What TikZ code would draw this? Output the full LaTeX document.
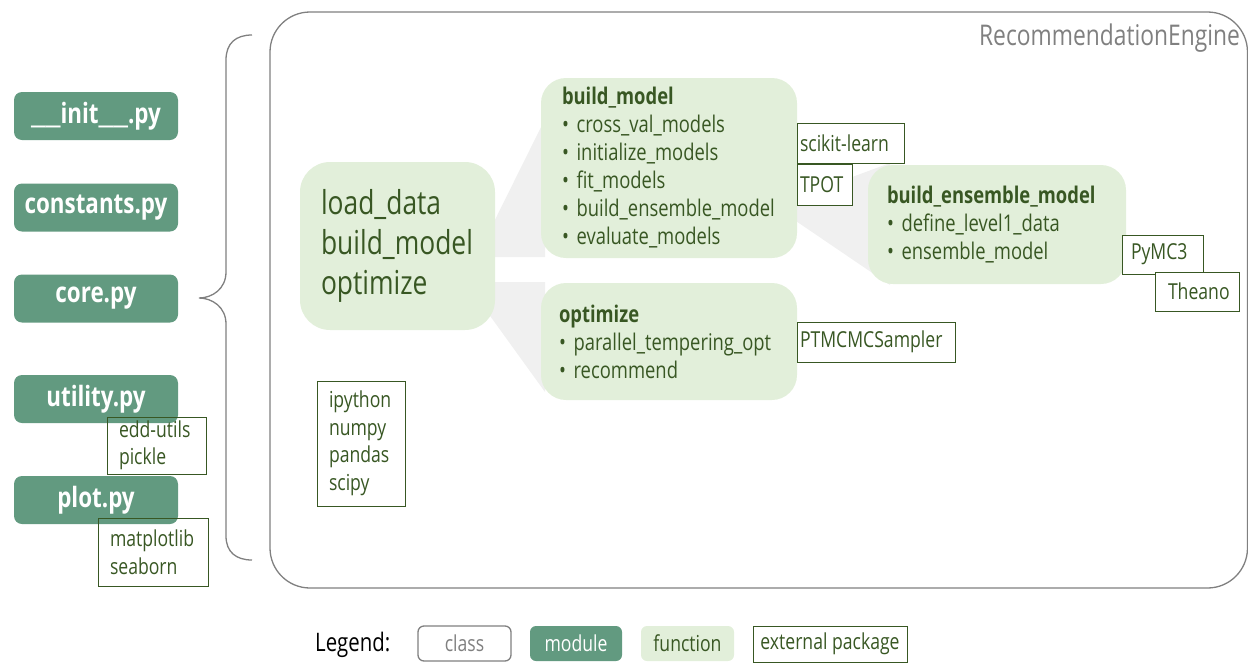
\documentclass[tikz,border=0pt]{standalone}
\usepackage{fontspec}
\setmainfont{Open Sans}[FakeStretch=0.8]
\definecolor{modfill}{RGB}{98,154,128}
\definecolor{funcfill}{RGB}{226,239,218}
\definecolor{dgreen}{RGB}{56,87,35}
\definecolor{wedge}{RGB}{240,240,240}
\definecolor{classgray}{RGB}{128,128,128}
\hyphenpenalty=10000
\exhyphenpenalty=10000
\newcommand\wideus{\scalebox{1.6}[1]{\_\_}}
\tikzset{
  module/.style={fill=modfill, rounded corners=8pt, text=white,
    font=\fontsize{28}{34}\selectfont\bfseries, minimum width=164pt, minimum height=48pt, inner sep=0pt},
  func/.style={fill=funcfill, rounded corners=25pt, text=dgreen, align=left, inner ysep=0pt,
    font=\fontsize{23}{28}\selectfont},
  ext/.style={draw=dgreen, line width=1pt, fill=white, text=dgreen, align=left, inner ysep=0pt,
    font=\fontsize{22}{27.5}\selectfont},
  wedgeshape/.style={fill=wedge, draw=none},
  legendtxt/.style={font=\fontsize{22}{26}\selectfont, inner sep=0pt}
}
\begin{document}
\begin{tikzpicture}[x=1pt,y=-1pt]
\useasboundingbox (0,0) rectangle (1248,662);
% class box
\draw[classgray, line width=1.3pt, rounded corners=40pt] (270,12) rectangle (1247.5,588);
\node[anchor=east, text=classgray, font=\fontsize{28.5}{32}\selectfont, inner sep=0pt] (cname) at (1240,38) {RecommendationEngine};
% brace
\draw[classgray, line width=1.3pt] (252,35) .. controls (236,35) and (226,43) .. (226,60) -- (226,272)
  .. controls (226,289) and (212,298) .. (199,298) .. controls (212,298) and (226,307) .. (226,324)
  -- (226,536) .. controls (226,552) and (236,560) .. (252,560);
% wedges
\fill[wedgeshape] (480,250) -- (545,119) -- (545,257) -- (480,257) -- cycle;
\fill[wedgeshape] (480,282) -- (545,282) -- (545,392) -- (480,302) -- cycle;
\fill[wedgeshape] (790,200) -- (890,163) -- (890,285) -- (790,217) -- cycle;
% modules
\node[module] (init) at (96,116) {\wideus init\wideus.py};
\node[module] (const) at (96,207.5) {constants.py};
\node[module] (core) at (96,298.5) {core.py};
\node[module] (util) at (96,399) {utility.py};
\node[module] (plot) at (96,500) {plot.py};
% functions
\node[func, rounded corners=30pt, minimum width=195pt, minimum height=168pt, text width=153pt, inner xsep=21pt,
  font=\fontsize{33}{40}\selectfont] (main) at (397.5,246) {load\_data\\build\_model\\optimize};
\node[func, minimum width=256pt, minimum height=180pt, text width=214pt, inner xsep=21pt] (bm) at (669,168)
  {\textbf{build\_model}\\\textbullet{} cross\_val\_models\\\textbullet{} initialize\_models\\\textbullet{} fit\_models\\\textbullet{} build\_ensemble\_model\\\textbullet{} evaluate\_models};
\node[func, minimum width=256pt, minimum height=117pt, text width=220pt, inner xsep=18pt] (opt) at (669,341.5)
  {\textbf{optimize}\\\textbullet{} parallel\_tempering\_opt\\\textbullet{} recommend};
\node[func, minimum width=258pt, minimum height=119pt, text width=220pt, inner xsep=19pt] (ens) at (997,224.5)
  {\textbf{build\_ensemble\_model}\\\textbullet{} define\_level1\_data\\\textbullet{} ensemble\_model};
% external packages
\node[ext, minimum width=107pt, minimum height=40pt, text width=101pt, inner xsep=3pt] (sk) at (850.5,143) {scikit-learn};
\node[ext, minimum width=55pt, minimum height=41pt, text width=49pt, inner xsep=3pt] (tpot) at (824.5,184.5) {TPOT};
\node[ext, minimum width=158pt, minimum height=40pt, text width=152pt, inner xsep=3pt] (ptm) at (876,342) {PTMCMCSampler};
\node[ext, minimum width=81pt, minimum height=39pt, text width=63pt, inner xsep=9pt] (pymc) at (1162.5,254.5) {PyMC3};
\node[ext, minimum width=84pt, minimum height=39pt, text width=58pt, inner xsep=13pt] (theano) at (1197,291.5) {Theano};
\node[ext, minimum width=88pt, minimum height=125pt, text width=64pt, inner xsep=12pt] (ipy) at (361,443.5) {ipython\\numpy\\pandas\\scipy};
\node[ext, fill=none, minimum width=99pt, minimum height=57pt, text width=75pt, inner xsep=12pt] (edd) at (156.5,445.5) {edd-utils\\pickle};
\node[ext, fill=none, minimum width=110pt, minimum height=68pt, text width=86pt, inner xsep=12pt] (mpl) at (153,552) {matplotlib\\seaborn};
% legend
\node[anchor=west, legendtxt, font=\fontsize{25.5}{28}\selectfont] (leg) at (315,645) {Legend:};
\node[draw=classgray, line width=1.3pt, rounded corners=6pt, minimum width=93pt, minimum height=35pt, text=classgray, legendtxt] (lclass) at (464.5,643.5) {class};
\node[fill=modfill, rounded corners=6pt, minimum width=92pt, minimum height=35pt, text=white, legendtxt] (lmod) at (576,643.5) {module};
\node[fill=funcfill, rounded corners=6pt, minimum width=93pt, minimum height=35pt, text=dgreen, legendtxt] (lfunc) at (687.5,643.5) {function};
\node[draw=dgreen, line width=1pt, minimum width=154pt, minimum height=36pt, text=dgreen, legendtxt] (lext) at (830,644) {external package};
\end{tikzpicture}
\end{document}
